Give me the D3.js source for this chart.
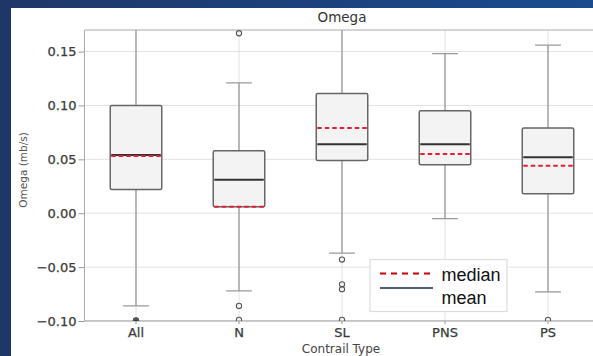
<!DOCTYPE html>
<html>
<head>
<meta charset="utf-8">
<script src="https://cdn.jsdelivr.net/npm/d3@7"></script>
<style>
  body { margin: 0; background: #fff; }
  svg { display: block; }
</style>
</head>
<body>
<div id="vis"></div>
<script>
const W = 593, H = 356;
const margin = {top: 30, left: 84.5, bottom: 321};
const plotRight = 599.5; // the right edge of the plot is cropped off the picture

// data
const categories = ["All", "N", "SL", "PNS", "PS"];
const q1 = [0.022, 0.006, 0.049, 0.045, 0.018];
const q3 = [0.100, 0.058, 0.111, 0.095, 0.079];
const medianVals = [0.053, 0.006, 0.079, 0.055, 0.044];   // red dashed
const meanVals = [0.054, 0.031, 0.064, 0.064, 0.052];     // dark solid
const whiskerLow = [-0.086, -0.072, -0.037, -0.005, -0.073];
const whiskerHigh = [0.20, 0.121, 0.20, 0.148, 0.156];
const outliers = [
  [-0.0995, -0.1, -0.1, -0.1005, -0.101],
  [0.167, -0.086, -0.099],
  [-0.043, -0.066, -0.0705, -0.099],
  [],
  [-0.099]
];
const yTicks = [-0.10, -0.05, 0.00, 0.05, 0.10, 0.15];
const legendItems = ["median", "mean"];

const boxes = categories.map((c, i) => ({
  cat: c, q1: q1[i], q3: q3[i], med: medianVals[i], mean: meanVals[i],
  lo: whiskerLow[i], hi: whiskerHigh[i], out: outliers[i]
}));

const svg = d3.select('#vis').append('svg')
  .attr('width', W).attr('height', H)
  .style('font-family', '"DejaVu Sans", sans-serif');

// slide frame
const defs = svg.append('defs');
const grad = defs.append('linearGradient').attr('id', 'topbar')
  .attr('x1', '0%').attr('x2', '100%');
grad.append('stop').attr('offset', '0%').attr('stop-color', '#1f3768');
grad.append('stop').attr('offset', '100%').attr('stop-color', '#1a4b8f');
defs.append('clipPath').attr('id', 'plotclip').append('rect')
  .attr('x', margin.left).attr('y', margin.top)
  .attr('width', plotRight - margin.left).attr('height', margin.bottom - margin.top);

svg.append('rect').attr('x', 0).attr('y', 0).attr('width', W).attr('height', 8).attr('fill', 'url(#topbar)');
svg.append('rect').attr('x', 0).attr('y', 0).attr('width', 11).attr('height', H).attr('fill', '#1f3768');

const x = d3.scaleBand().domain(categories).range([margin.left, plotRight]).padding(0);
const y = d3.scaleLinear().domain([-0.1, 0.17]).range([margin.bottom, margin.top]);
const cx = d => x(d) + x.bandwidth() / 2;
const boxW = x.bandwidth() * 0.5;
const capW = boxW * 0.5;

// grid
const grid = svg.append('g').attr('clip-path', 'url(#plotclip)');
grid.selectAll('.hgrid').data(yTicks).join('line')
  .attr('x1', margin.left).attr('x2', plotRight)
  .attr('y1', d => y(d)).attr('y2', d => y(d))
  .attr('stroke', '#e2e2e2').attr('stroke-width', 1);
grid.selectAll('.vgrid').data(categories).join('line')
  .attr('x1', d => cx(d)).attr('x2', d => cx(d))
  .attr('y1', margin.top).attr('y2', margin.bottom)
  .attr('stroke', '#e2e2e2').attr('stroke-width', 1);

// axes
const yAxis = svg.append('g')
  .attr('transform', `translate(${margin.left},0)`)
  .call(d3.axisLeft(y).tickValues(yTicks).tickFormat(d3.format('.2f')).tickSize(6).tickPadding(2));
const xAxis = svg.append('g')
  .attr('transform', `translate(0,${margin.bottom})`)
  .call(d3.axisBottom(x).tickSize(3).tickPadding(4));
[yAxis, xAxis].forEach(a => {
  a.select('.domain').remove();
  a.selectAll('line').attr('stroke', '#999');
  a.selectAll('text').attr('font-family', '"DejaVu Sans", sans-serif').attr('font-size', 13)
    .attr('fill', '#3a3a3a').attr('stroke', '#3a3a3a').attr('stroke-width', 0.25);
});

// spines
svg.append('line').attr('x1', margin.left).attr('x2', margin.left).attr('y1', margin.top).attr('y2', margin.bottom).attr('stroke', '#aaa');
svg.append('line').attr('x1', margin.left).attr('x2', plotRight).attr('y1', margin.top).attr('y2', margin.top).attr('stroke', '#aaa');
svg.append('line').attr('x1', margin.left).attr('x2', plotRight).attr('y1', margin.bottom).attr('y2', margin.bottom).attr('stroke', '#999');

// boxes
const plot = svg.append('g').attr('clip-path', 'url(#plotclip)');
const g = plot.selectAll('.box').data(boxes).join('g').attr('class', 'box');

g.append('line').attr('x1', d => cx(d.cat)).attr('x2', d => cx(d.cat))
  .attr('y1', d => y(d.q3)).attr('y2', d => y(d.hi)).attr('stroke', '#999').attr('stroke-width', 1.3);
g.append('line').attr('x1', d => cx(d.cat)).attr('x2', d => cx(d.cat))
  .attr('y1', d => y(d.q1)).attr('y2', d => y(d.lo)).attr('stroke', '#999').attr('stroke-width', 1.3);
g.append('line').attr('x1', d => cx(d.cat) - capW / 2).attr('x2', d => cx(d.cat) + capW / 2)
  .attr('y1', d => y(d.hi)).attr('y2', d => y(d.hi)).attr('stroke', '#999').attr('stroke-width', 1.3);
g.append('line').attr('x1', d => cx(d.cat) - capW / 2).attr('x2', d => cx(d.cat) + capW / 2)
  .attr('y1', d => y(d.lo)).attr('y2', d => y(d.lo)).attr('stroke', '#999').attr('stroke-width', 1.3);

g.append('rect')
  .attr('x', d => cx(d.cat) - boxW / 2).attr('width', boxW)
  .attr('y', d => y(d.q3)).attr('height', d => y(d.q1) - y(d.q3))
  .attr('rx', 1.5)
  .attr('fill', '#f3f3f3').attr('stroke', '#666').attr('stroke-width', 1.5);

g.append('line').attr('x1', d => cx(d.cat) - boxW / 2 + 1).attr('x2', d => cx(d.cat) + boxW / 2 - 1)
  .attr('y1', d => y(d.mean)).attr('y2', d => y(d.mean)).attr('stroke', '#333').attr('stroke-width', 2);
g.append('line').attr('x1', d => cx(d.cat) - boxW / 2 + 1).attr('x2', d => cx(d.cat) + boxW / 2 - 1)
  .attr('y1', d => y(d.med)).attr('y2', d => y(d.med)).attr('stroke', '#e0203a').attr('stroke-width', 2)
  .attr('stroke-dasharray', '4.5,3');

// outliers; a heap of coincident points reads as a filled dot
g.selectAll('circle').data(d => d.out.map(v => ({cat: d.cat, v, heap: d.out.length > 3 && d3.min(d.out) < -0.1}))).join('circle')
  .attr('cx', d => cx(d.cat)).attr('cy', d => y(d.v)).attr('r', 2.6)
  .attr('fill', d => d.heap && d.v <= -0.0995 ? '#333' : 'none')
  .attr('stroke', '#555').attr('stroke-width', 1.1);

// titles
svg.append('text').attr('x', (margin.left + plotRight) / 2).attr('y', 22)
  .attr('text-anchor', 'middle').attr('font-size', 13.5).attr('fill', '#333').text('Omega');
svg.append('text').attr('transform', `translate(27,170) rotate(-90)`)
  .attr('text-anchor', 'middle').attr('font-size', 10.5).attr('fill', '#555').text('Omega (mb/s)');
svg.append('text').attr('x', 341).attr('y', 353)
  .attr('text-anchor', 'middle').attr('font-size', 12).attr('fill', '#444').text('Contrail Type');

// legend
const leg = svg.append('g');
leg.append('rect').attr('x', 370).attr('y', 259.5).attr('width', 137).attr('height', 52)
  .attr('fill', '#fff').attr('stroke', '#ddd').attr('stroke-width', 1.2);
leg.append('line').attr('x1', 380).attr('x2', 431).attr('y1', 273.5).attr('y2', 273.5)
  .attr('stroke', '#cc0000').attr('stroke-width', 2).attr('stroke-dasharray', '6,5');
leg.append('line').attr('x1', 380).attr('x2', 433).attr('y1', 288).attr('y2', 288)
  .attr('stroke', '#4d5d82').attr('stroke-width', 2);
leg.selectAll('.lt').data(legendItems).join('text')
  .attr('x', 441.5).attr('y', (d, i) => 280.5 + i * 23)
  .attr('font-family', '"Liberation Sans", Arial, sans-serif').attr('font-size', 18).attr('fill', '#111')
  .text(d => d);
</script>
</body>
</html>
